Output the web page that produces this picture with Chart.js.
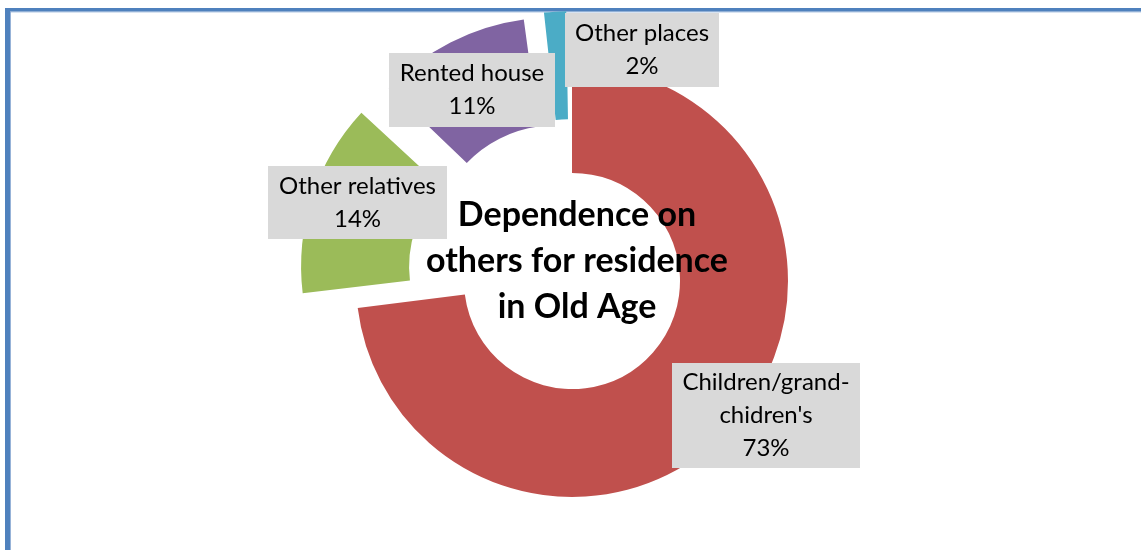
<!DOCTYPE html>
<html>
<head>
<meta charset="utf-8">
<script src="https://cdn.jsdelivr.net/npm/chart.js@4.4.1/dist/chart.umd.min.js"></script>
<style>
  html, body { margin: 0; padding: 0; background: #fff; overflow: hidden; }
  #wrap { position: relative; width: 1141px; height: 550px; }
</style>
</head>
<body>
<div id="wrap"><canvas id="residenceChart"></canvas></div>
<script>
// data
const categories = ['Children/grand-chidren\'s', 'Other relatives', 'Rented house', 'Other places'];
const shares = [73, 14, 11, 2];
const sliceColors = ['#c0504d', '#9bbb59', '#8064a2', '#4bacc6'];
const explode = [0, 186, 152, 115];
const titleLines = ['Dependence on', 'others for residence', 'in Old Age'];

// label boxes: [x, y, w, h] and the text lines inside
const labelBoxes = [
  { box: [672, 363, 188, 105], lines: ['Children/grand-', 'chidren\'s', '73%'] },
  { box: [268, 166, 179, 73], lines: ['Other relatives', '14%'] },
  { box: [389, 53, 166, 74], lines: ['Rented house', '11%'] },
  { box: [565, 13, 154, 74], lines: ['Other places', '2%'] }
];

const frame = {
  id: 'frame',
  beforeDraw(chart) {
    const ctx = chart.ctx;
    ctx.save();
    ctx.fillStyle = '#4f81bd';
    ctx.fillRect(5, 8, chart.width - 5, 3.5);
    ctx.fillRect(5, 8, 5, chart.height - 8);
    ctx.fillStyle = '#7ea1cf';
    ctx.fillRect(10, 11.5, chart.width - 10, 0.8);
    ctx.fillRect(10, 11.5, 0.8, chart.height);
    ctx.restore();
  }
};

const labels = {
  id: 'labels',
  afterDatasetsDraw(chart) {
    const ctx = chart.ctx;
    const meta = chart.getDatasetMeta(0);
    const arc = meta.data[0];
    ctx.save();
    // centre title
    ctx.fillStyle = '#000';
    ctx.font = 'bold 34px Lato, "Open Sans", sans-serif';
    ctx.textAlign = 'center';
    ctx.textBaseline = 'middle';
    titleLines.forEach((t, i) => ctx.fillText(t, arc.x + 5, 215 + i * 46));

    ctx.font = '24px Lato, "Open Sans", sans-serif';
    labelBoxes.forEach((lb, i) => {
      if (shares[i] == null) return;
      const [x, y, w, h] = lb.box;
      ctx.fillStyle = '#d9d9d9';
      ctx.fillRect(x, y, w, h);
      ctx.fillStyle = '#000';
      const n = lb.lines.length;
      lb.lines.forEach((t, j) => {
        ctx.fillText(t, x + w / 2, y + h / 2 + (j - (n - 1) / 2) * 33);
      });
    });
    ctx.restore();
  }
};

new Chart(document.getElementById('residenceChart'), {
  type: 'doughnut',
  data: {
    labels: categories,
    datasets: [{
      data: shares,
      backgroundColor: sliceColors,
      borderWidth: 0,
      offset: explode,
      hoverOffset: 0
    }]
  },
  options: {
    responsive: true,
    maintainAspectRatio: false,
    animation: false,
    events: [],
    radius: 216,
    cutout: '50%',
    layout: { padding: { left: 3, right: 0, top: 12, bottom: 0 } },
    plugins: {
      legend: { display: false },
      tooltip: { enabled: false }
    }
  },
  plugins: [frame, labels]
});
</script>
</body>
</html>
